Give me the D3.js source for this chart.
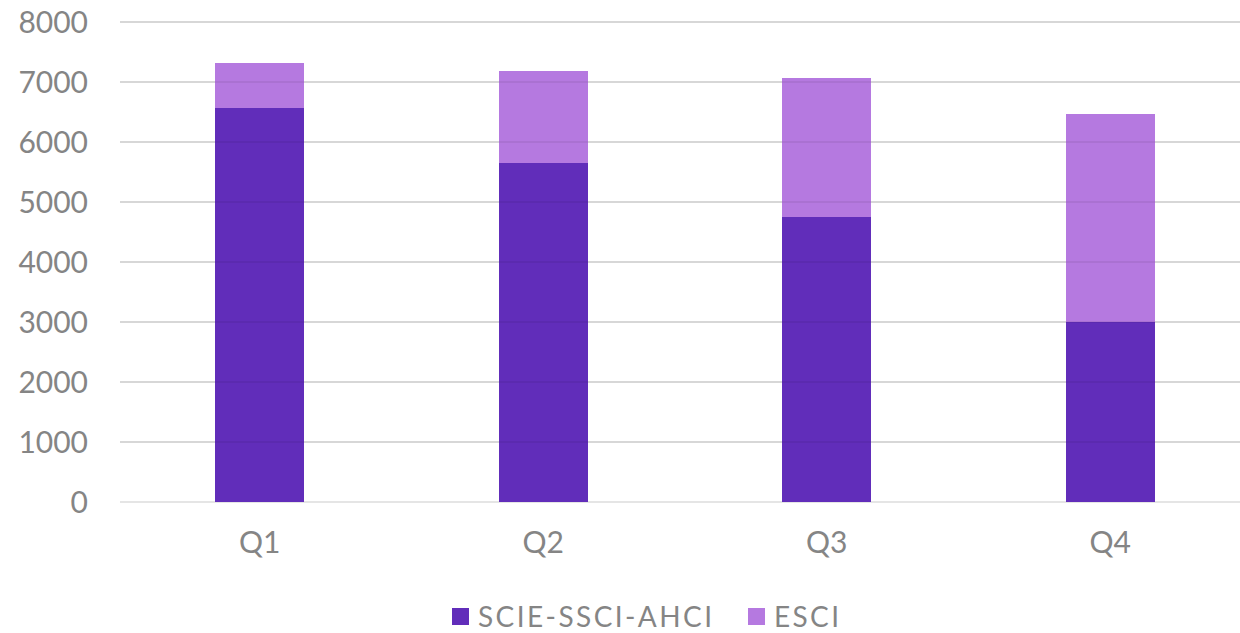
<!DOCTYPE html>
<html>
<head>
<meta charset="utf-8">
<script src="https://cdn.jsdelivr.net/npm/d3@7"></script>
<style>
  html, body { margin: 0; padding: 0; background: #fff; }
  svg { display: block; font-family: Lato, "Open Sans", sans-serif; }
</style>
</head>
<body>
<svg id="chart" width="1240" height="633"></svg>
<script>
const categories = ["Q1", "Q2", "Q3", "Q4"];
const seriesNames = ["SCIE-SSCI-AHCI", "ESCI"];
const scieValues = [6570, 5655, 4745, 2995];
const esciValues = [750, 1530, 2325, 3465];
const yTicks = [0, 1000, 2000, 3000, 4000, 5000, 6000, 7000, 8000];
const colors = ["#612dba", "#b579e0"];

const svg = d3.select("#chart");
const x = d3.scaleBand().domain(categories).range([118, 1252]).paddingInner(0.686).paddingOuter(0.343);
const y = d3.scaleLinear().domain([0, 8000]).range([502, 22]);

const rows = categories.map((c, i) => ({ cat: c, scie: scieValues[i], esci: esciValues[i] }));
const stack = d3.stack().keys(["scie", "esci"])(rows);

// gridlines
svg.append("g").selectAll("line").data(yTicks).join("line")
  .attr("x1", 120).attr("x2", 1240)
  .attr("y1", d => y(d)).attr("y2", d => y(d))
  .attr("stroke", "#e5e5e5").attr("stroke-width", 2);

// bars
svg.append("g").attr("shape-rendering", "crispEdges").selectAll("g").data(stack).join("g")
  .attr("fill", (d, i) => colors[i])
  .selectAll("rect").data(d => d).join("rect")
  .attr("x", d => Math.round(x(d.data.cat)))
  .attr("width", Math.round(x.bandwidth()))
  .attr("y", d => Math.round(y(d[1])))
  .attr("height", d => Math.round(y(d[0])) - Math.round(y(d[1])));

// faint gridlines through bars
svg.append("g").selectAll("line").data(yTicks.filter(d => d > 0)).join("line")
  .attr("x1", 120).attr("x2", 1240)
  .attr("y1", d => y(d)).attr("y2", d => y(d))
  .attr("stroke", "rgba(0,0,0,0.06)").attr("stroke-width", 2);

// y axis labels
const yAxis = d3.axisLeft(y).tickValues(yTicks).tickSize(0).tickPadding(0).tickFormat(d3.format("d"));
const gy = svg.append("g").attr("transform", "translate(88,0)").call(yAxis);
gy.select(".domain").remove();
gy.selectAll("text").attr("fill", "#858585").attr("font-size", 30).attr("font-family", "Lato, sans-serif").attr("dy", "0.36em");

// x axis labels
const xAxis = d3.axisBottom(x).tickSize(0).tickPadding(0);
const gx = svg.append("g").attr("transform", "translate(0,532)").call(xAxis);
gx.select(".domain").remove();
gx.selectAll("text").attr("fill", "#858585").attr("font-size", 30).attr("font-family", "Lato, sans-serif").attr("dy", "0.71em");

// legend
const legendItems = [{ name: seriesNames[0], x: 452, w: 234 }, { name: seriesNames[1], x: 748, w: 65 }];
const lg = svg.append("g");
legendItems.forEach((it, i) => {
  lg.append("rect").attr("x", it.x).attr("y", 608).attr("width", 17).attr("height", 17).attr("fill", colors[i]);
  lg.append("text").attr("x", it.x + 26).attr("y", 627).attr("font-size", 28)
    .attr("textLength", it.w).attr("lengthAdjust", "spacing")
    .attr("fill", "#858585").text(it.name);
});
</script>
</body>
</html>
